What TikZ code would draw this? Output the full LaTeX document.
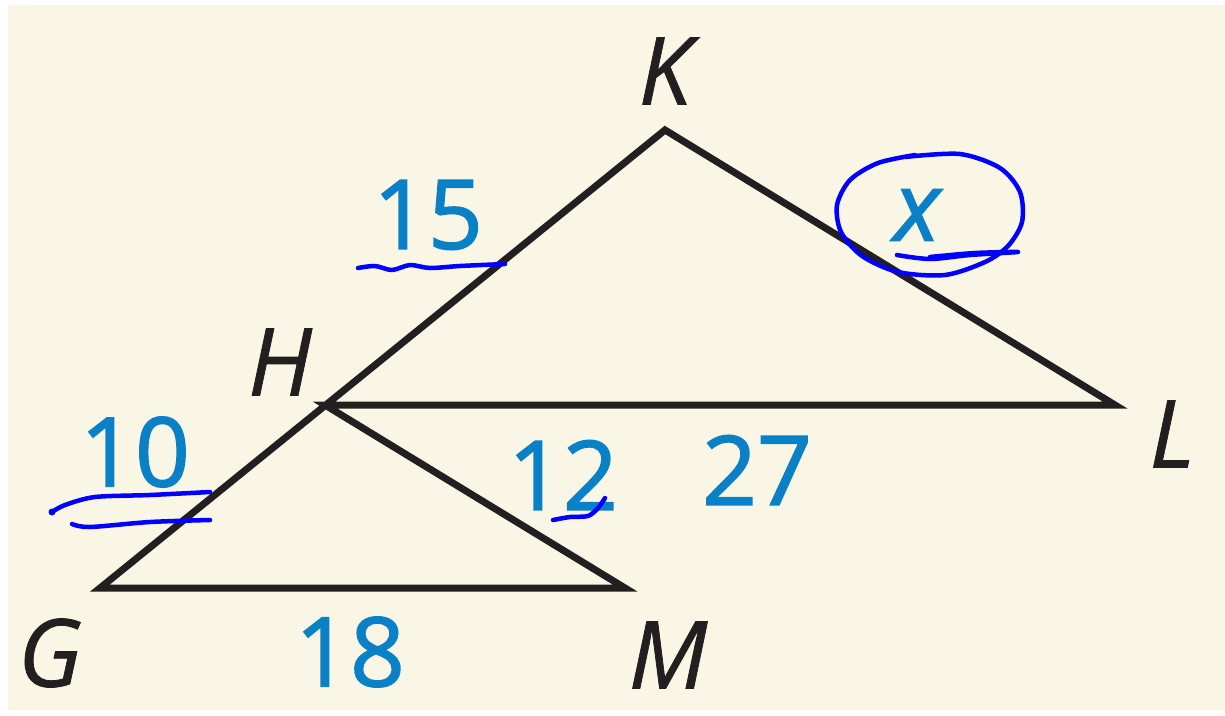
\documentclass[tikz,border=0pt]{standalone}
\usepackage{fontspec}
\setmainfont{Open Sans}
\newfontfamily\numfont{Open Sans}[FakeBold=1.6]
\newfontfamily\letfont{Open Sans}[FakeBold=0.8]
\definecolor{cream}{HTML}{F9F6E5}
\definecolor{numblue}{HTML}{0A80C6}
\definecolor{ink}{HTML}{231F20}
\definecolor{pen}{HTML}{0000FF}
\tikzset{
  edge/.style={draw=ink,line width=7pt,line join=miter},
  vlabel/.style={text=ink,font=\letfont\fontsize{94}{94}\selectfont\itshape,inner sep=0pt},
  num/.style={text=numblue,font=\numfont\fontsize{96}{96}\selectfont,inner sep=0pt},
  hand/.style={draw=pen,line width=4.5pt,line cap=round,line join=round}
}
\begin{document}
\begin{tikzpicture}[x=1pt,y=-1pt]
\useasboundingbox (0,0) rectangle (1225,715);
\fill[white] (0,0) rectangle (1225,715);
\fill[cream] (8,5) rectangle (1225,710);
\coordinate (K) at (665,130);
\coordinate (L) at (1115,405);
\coordinate (H) at (325,405);
\coordinate (G) at (100,588);
\coordinate (M) at (625,588);
\draw[edge] (G) -- (K) -- (L) -- (H) -- (M) -- cycle;
\node[vlabel] (lK) at (665,71) {K};
\node[vlabel] (lH) at (280,362) {H};
\node[vlabel] (lL) at (1172,434) {L};
\node[vlabel] (lG) at (50,653) {G};
\node[vlabel] (lM) at (668,655) {M};
\node[num] (n15) at (428,215) {15};
\node[num, font=\numfont\fontsize{96}{96}\selectfont\itshape] (nx) at (917,215) {x};
\node[num] (n10) at (135,452) {10};
\node[num] (n12) at (563,475) {12};
\node[num] (n27) at (757,470) {27};
\node[num] (n18) at (350,652) {18};
% hand-drawn marks
\draw[hand] plot[smooth] coordinates {(358,268) (375,266) (392,270) (410,265) (430,268) (460,266) (505,264)};
\draw[hand] plot[smooth] coordinates {(905,157) (960,154) (1000,168) (1020,192) (1022,222) (1008,246) (985,262) (945,275) (898,272) (862,256) (841,232) (837,205) (850,180) (878,163) (915,155)};
\draw[hand] plot[smooth] coordinates {(897,255) (930,259) (970,255) (1018,252) (975,253) (930,257)};
\fill[pen] (52,512) circle (3.5pt);
\draw[hand] plot[smooth] coordinates {(52,512) (65,505) (95,497) (150,495) (210,492)};
\draw[hand] plot[smooth] coordinates {(72,524) (90,527) (150,522) (210,520)};
\draw[hand] plot[smooth] coordinates {(553,520) (570,517) (588,516) (598,508) (605,498)};
\end{tikzpicture}
\end{document}
